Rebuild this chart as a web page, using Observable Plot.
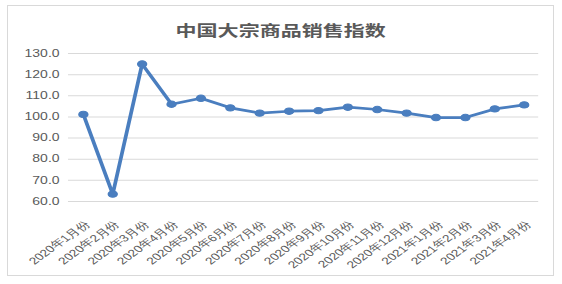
<!DOCTYPE html>
<html><head><meta charset="utf-8">
<script src="https://cdn.jsdelivr.net/npm/d3@7"></script>
<script src="https://cdn.jsdelivr.net/npm/@observablehq/plot@0.6"></script>
<style>
body{margin:0;background:#fff;}
#wrap{position:relative;width:562px;height:284px;overflow:hidden;}
#border{position:absolute;left:7px;top:5px;width:547px;height:271px;border:1px solid #d9d9d9;box-sizing:border-box;pointer-events:none;}
#chart{position:absolute;left:0;top:0;transform:scaleX(1.4015);transform-origin:0 0;}
</style>
</head><body>
<div id="wrap"><div id="chart"></div><div id="border"></div></div>
<script>
const title = "中国大宗商品销售指数";
const categories = ["2020年1月份","2020年2月份","2020年3月份","2020年4月份","2020年5月份","2020年6月份","2020年7月份","2020年8月份","2020年9月份","2020年10月份","2020年11月份","2020年12月份","2021年1月份","2021年2月份","2021年3月份","2021年4月份"];
const values = [101.2, 63.5, 125.0, 106.0, 108.8, 104.3, 101.8, 102.7, 103.0, 104.6, 103.5, 101.8, 99.7, 99.7, 103.8, 105.7];
const yTicks = [60, 70, 80, 90, 100, 110, 120, 130];

const data = categories.map((c, i) => ({month: c, value: values[i]}));
const blue = "#4a7ebf";
const chart = Plot.plot({
  width: 401,
  height: 284,
  marginLeft: 48.5,
  marginRight: 17,
  marginTop: 53,
  marginBottom: 83,
  style: {fontFamily: "'Liberation Sans', Arial, sans-serif", background: "transparent"},
  x: {type: "point", domain: categories, padding: 0.5, round: false},
  y: {domain: [60, 130]},
  marks: [
    Plot.gridY(yTicks, {stroke: "#d9d9d9", strokeOpacity: 1, strokeWidth: 1}),
    Plot.axisY(yTicks, {tickSize: 0, tickPadding: 6.5, tickFormat: d => d.toFixed(1), fontSize: 10, fill: "#595959", label: null}),
    Plot.axisX({tickSize: 0, tickPadding: 21, tickRotate: -45, dx: 3, fontSize: 9.8, fill: "#595959", label: null}),
    Plot.line(data, {x: "month", y: "value", stroke: blue, strokeWidth: 2.7}),
    Plot.dot(data, {x: "month", y: "value", r: 3.2, fill: blue, stroke: blue, strokeWidth: 1}),
    Plot.text([title], {frameAnchor: "top", dx: -16.5, dy: -28, fontSize: 15, fontWeight: "bold", fill: "#595959", fontFamily: "'Noto Sans CJK SC', sans-serif"})
  ]
});
document.getElementById("chart").appendChild(chart);
</script>
</body></html>
